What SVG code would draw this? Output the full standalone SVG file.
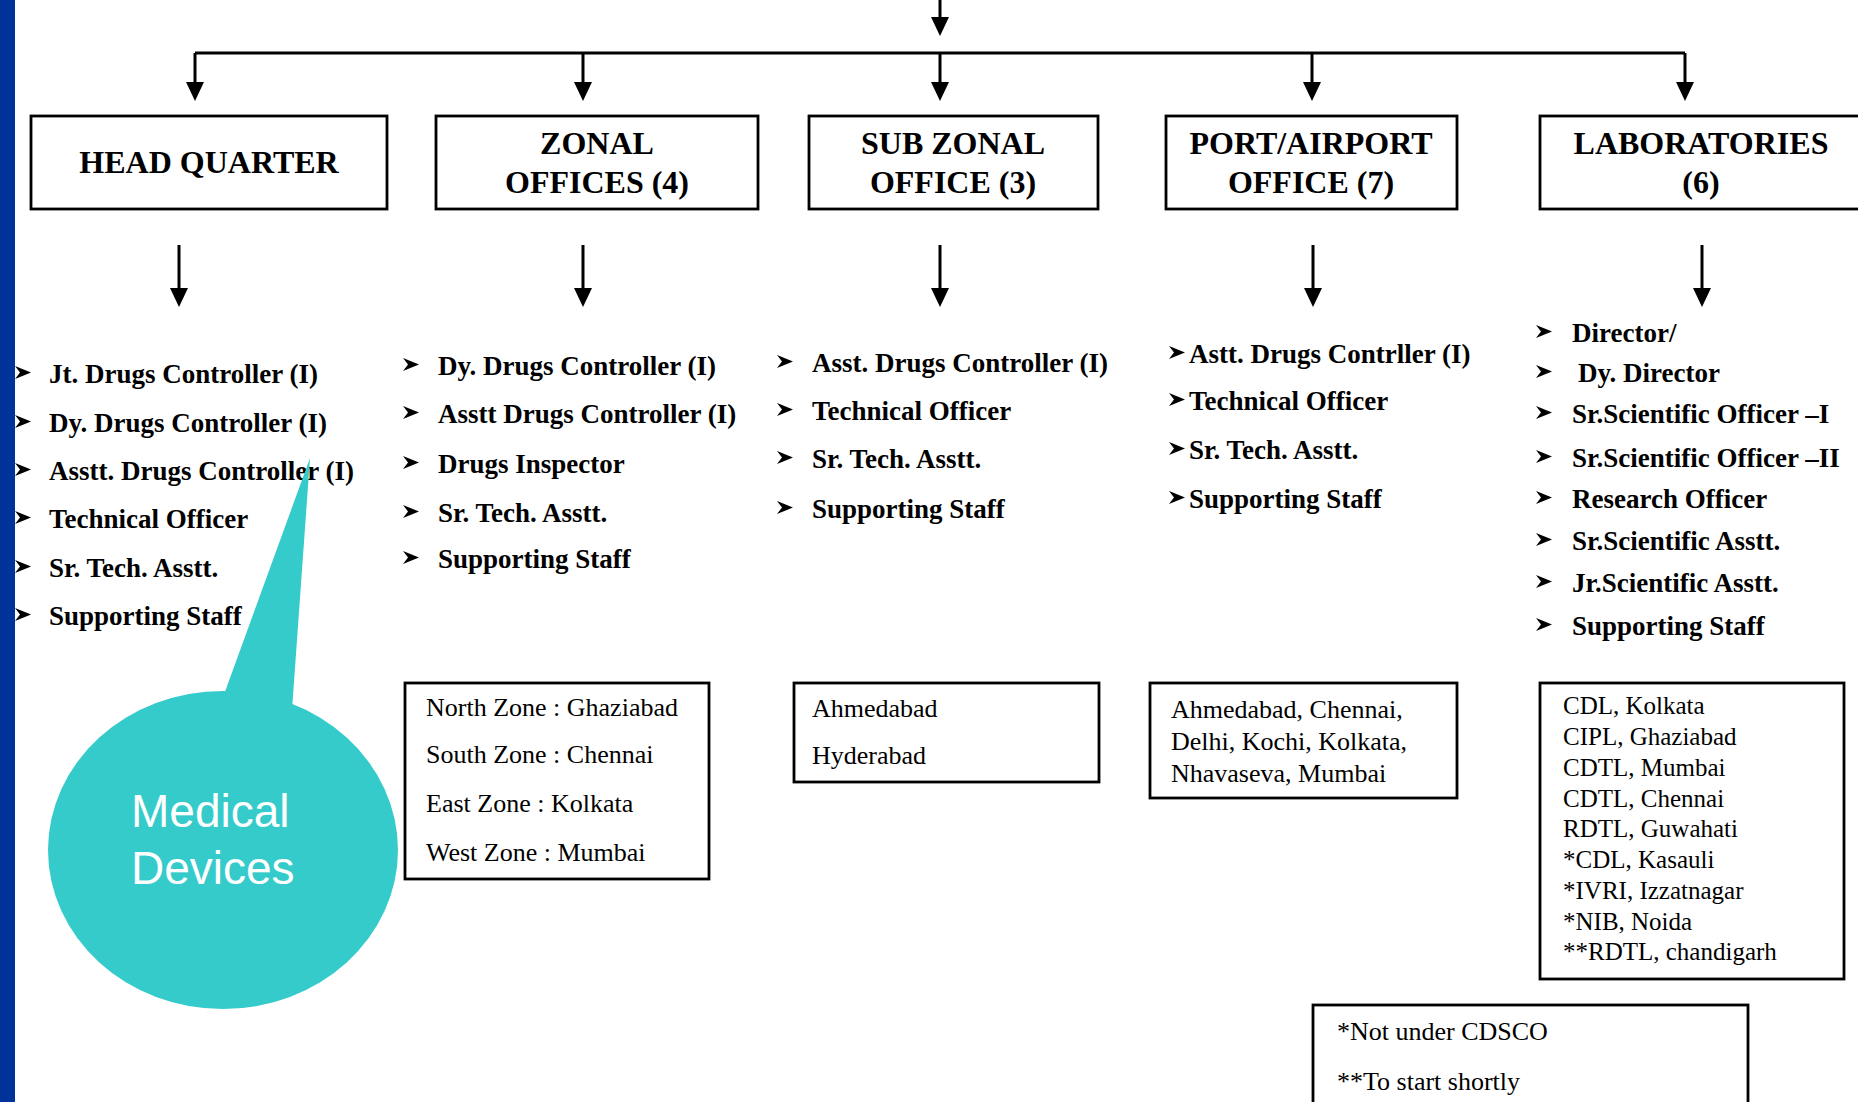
<svg xmlns="http://www.w3.org/2000/svg" width="1858" height="1102" viewBox="0 0 1858 1102">
<style>
.box{fill:#fff;stroke:#000;stroke-width:2.8}
.ln{stroke:#000;stroke-width:3;fill:none}
.hd{font-family:"Liberation Serif","Times New Roman",serif;font-weight:bold;font-size:32px;fill:#000;text-anchor:middle}
.it{font-family:"Liberation Serif","Times New Roman",serif;font-weight:bold;font-size:27px;fill:#000}
.ct{font-family:"Liberation Serif","Times New Roman",serif;font-size:26px;fill:#000}
.lc{font-family:"Liberation Serif","Times New Roman",serif;font-size:25px;fill:#000}
.md{font-family:"Liberation Sans",Arial,sans-serif;font-size:46px;fill:#fff}
</style>
<defs>
<path id="b" d="M0,0 L16,6.5 L0,13 L5,6.5 Z" fill="#000"/>
<path id="a" d="M-9,0 L9,0 L0,19 Z" fill="#000"/>
</defs>
<rect x="0" y="0" width="1858" height="1102" fill="#fff"/>

<g id="connectors">
<line class="ln" x1="940" y1="0" x2="940" y2="18"/>
<use href="#a" x="940" y="17"/>
<line class="ln" x1="195" y1="53" x2="1685" y2="53"/>
<line class="ln" x1="195" y1="53" x2="195" y2="83"/><use href="#a" x="195" y="82"/>
<line class="ln" x1="583" y1="53" x2="583" y2="83"/><use href="#a" x="583" y="82"/>
<line class="ln" x1="940" y1="53" x2="940" y2="83"/><use href="#a" x="940" y="82"/>
<line class="ln" x1="1312" y1="53" x2="1312" y2="83"/><use href="#a" x="1312" y="82"/>
<line class="ln" x1="1685" y1="53" x2="1685" y2="83"/><use href="#a" x="1685" y="82"/>
<line class="ln" x1="179" y1="245" x2="179" y2="289"/><use href="#a" x="179" y="288"/>
<line class="ln" x1="583" y1="245" x2="583" y2="289"/><use href="#a" x="583" y="288"/>
<line class="ln" x1="940" y1="245" x2="940" y2="289"/><use href="#a" x="940" y="288"/>
<line class="ln" x1="1313" y1="245" x2="1313" y2="289"/><use href="#a" x="1313" y="288"/>
<line class="ln" x1="1702" y1="245" x2="1702" y2="289"/><use href="#a" x="1702" y="288"/>
</g>

<g id="head-quarter">
<rect class="box" x="31" y="116" width="356" height="93"/>
<text class="hd" x="209" y="173">HEAD QUARTER</text>
</g>
<g id="zonal-offices">
<rect class="box" x="436" y="116" width="322" height="93"/>
<text class="hd" x="597" y="154">ZONAL</text>
<text class="hd" x="597" y="193">OFFICES (4)</text>
</g>
<g id="sub-zonal-office">
<rect class="box" x="809" y="116" width="289" height="93"/>
<text class="hd" x="953" y="154">SUB ZONAL</text>
<text class="hd" x="953" y="193">OFFICE (3)</text>
</g>
<g id="port-airport-office">
<rect class="box" x="1166" y="116" width="291" height="93"/>
<text class="hd" x="1311" y="154">PORT/AIRPORT</text>
<text class="hd" x="1311" y="193">OFFICE (7)</text>
</g>
<g id="laboratories">
<rect class="box" x="1540" y="116" width="330" height="93"/>
<text class="hd" x="1701" y="154">LABORATORIES</text>
<text class="hd" x="1701" y="193">(6)</text>
</g>

<g id="hq-staff">
<use href="#b" x="15" y="366"/><text class="it" x="49" y="383">Jt. Drugs Controller (I)</text>
<use href="#b" x="15" y="415"/><text class="it" x="49" y="432">Dy. Drugs Controller (I)</text>
<use href="#b" x="15" y="463"/><text class="it" x="49" y="480">Asstt. Drugs Controller (I)</text>
<use href="#b" x="15" y="511"/><text class="it" x="49" y="528">Technical Officer</text>
<use href="#b" x="15" y="560"/><text class="it" x="49" y="577">Sr. Tech. Asstt.</text>
<use href="#b" x="15" y="608"/><text class="it" x="49" y="625">Supporting Staff</text>
</g>

<g id="zonal-staff">
<use href="#b" x="403" y="358"/><text class="it" x="438" y="375">Dy. Drugs Controller (I)</text>
<use href="#b" x="403" y="406"/><text class="it" x="438" y="423">Asstt Drugs Controller (I)</text>
<use href="#b" x="403" y="456"/><text class="it" x="438" y="473">Drugs Inspector</text>
<use href="#b" x="403" y="505"/><text class="it" x="438" y="522">Sr. Tech. Asstt.</text>
<use href="#b" x="403" y="551"/><text class="it" x="438" y="568">Supporting Staff</text>
</g>

<g id="sub-zonal-staff">
<use href="#b" x="777" y="355"/><text class="it" x="812" y="372">Asst. Drugs Controller (I)</text>
<use href="#b" x="777" y="403"/><text class="it" x="812" y="420">Technical Officer</text>
<use href="#b" x="777" y="451"/><text class="it" x="812" y="468">Sr. Tech. Asstt.</text>
<use href="#b" x="777" y="501"/><text class="it" x="812" y="518">Supporting Staff</text>
</g>

<g id="port-staff">
<use href="#b" x="1169" y="346"/><text class="it" x="1189" y="363">Astt. Drugs Contrller (I)</text>
<use href="#b" x="1169" y="393"/><text class="it" x="1189" y="410">Technical Officer</text>
<use href="#b" x="1169" y="442"/><text class="it" x="1189" y="459">Sr. Tech. Asstt.</text>
<use href="#b" x="1169" y="491"/><text class="it" x="1189" y="508">Supporting Staff</text>
</g>

<g id="lab-staff">
<use href="#b" x="1536" y="325"/><text class="it" x="1572" y="342">Director/</text>
<use href="#b" x="1536" y="365"/><text class="it" x="1578" y="382">Dy. Director</text>
<use href="#b" x="1536" y="406"/><text class="it" x="1572" y="423">Sr.Scientific Officer –I</text>
<use href="#b" x="1536" y="450"/><text class="it" x="1572" y="467">Sr.Scientific Officer –II</text>
<use href="#b" x="1536" y="491"/><text class="it" x="1572" y="508">Research Officer</text>
<use href="#b" x="1536" y="533"/><text class="it" x="1572" y="550">Sr.Scientific Asstt.</text>
<use href="#b" x="1536" y="575"/><text class="it" x="1572" y="592">Jr.Scientific Asstt.</text>
<use href="#b" x="1536" y="618"/><text class="it" x="1572" y="635">Supporting Staff</text>
</g>

<g id="zonal-locations">
<rect class="box" x="405" y="683" width="304" height="196"/>
<text class="ct" x="426" y="716">North Zone : Ghaziabad</text>
<text class="ct" x="426" y="763">South Zone : Chennai</text>
<text class="ct" x="426" y="812">East Zone : Kolkata</text>
<text class="ct" x="426" y="861">West Zone : Mumbai</text>
</g>
<g id="sub-zonal-locations">
<rect class="box" x="794" y="683" width="305" height="99"/>
<text class="ct" x="812" y="717">Ahmedabad</text>
<text class="ct" x="812" y="764">Hyderabad</text>
</g>
<g id="port-locations">
<rect class="box" x="1150" y="683" width="307" height="115"/>
<text class="ct" x="1171" y="718">Ahmedabad, Chennai,</text>
<text class="ct" x="1171" y="750">Delhi, Kochi, Kolkata,</text>
<text class="ct" x="1171" y="782">Nhavaseva, Mumbai</text>
</g>
<g id="lab-locations">
<rect class="box" x="1540" y="683" width="304" height="296"/>
<text class="lc" x="1563" y="714">CDL, Kolkata</text>
<text class="lc" x="1563" y="745">CIPL, Ghaziabad</text>
<text class="lc" x="1563" y="776">CDTL, Mumbai</text>
<text class="lc" x="1563" y="807">CDTL, Chennai</text>
<text class="lc" x="1563" y="837">RDTL, Guwahati</text>
<text class="lc" x="1563" y="868">*CDL, Kasauli</text>
<text class="lc" x="1563" y="899">*IVRI, Izzatnagar</text>
<text class="lc" x="1563" y="930">*NIB, Noida</text>
<text class="lc" x="1563" y="960">**RDTL, chandigarh</text>
</g>
<g id="notes">
<rect class="box" x="1313" y="1005" width="435" height="120"/>
<text class="ct" x="1337" y="1040">*Not under CDSCO</text>
<text class="ct" x="1337" y="1090">**To start shortly</text>
</g>

<g id="medical-devices">
<ellipse cx="223" cy="850" rx="175" ry="159" fill="#35CBCB"/>
<polygon points="310,458 222,700 292,710" fill="#35CBCB"/>
<text class="md" x="131" y="827">Medical</text>
<text class="md" x="131" y="884">Devices</text>
</g>

<rect x="0" y="0" width="15" height="1102" fill="#003399"/>
</svg>
